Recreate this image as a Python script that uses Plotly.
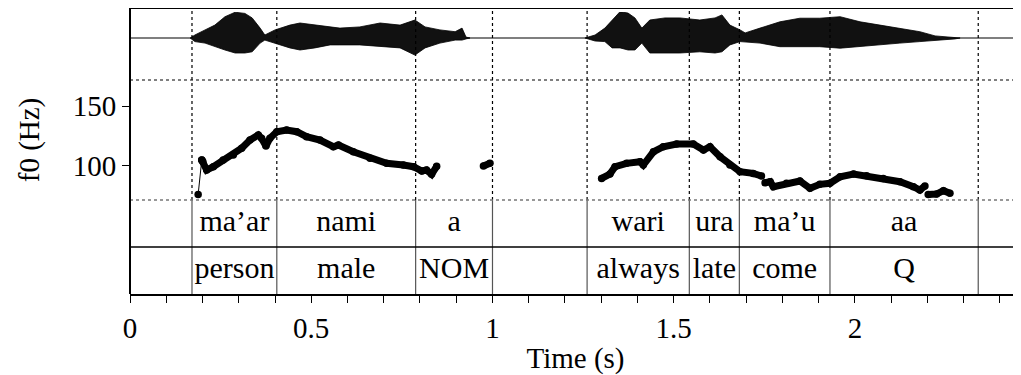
import plotly.graph_objects as go

# ---------------- data ----------------
# waveform amplitude envelope (arbitrary units, upper / lower)
wave_time = [0.166, 0.179, 0.207, 0.234, 0.262, 0.290, 0.317, 0.337, 0.359, 0.372, 0.400,
             0.441, 0.469, 0.510, 0.552, 0.579, 0.634, 0.690, 0.745, 0.786, 0.814, 0.855,
             0.897, 0.916, 0.927, 0.938]
wave_upper = [0.0, 0.10, 0.27, 0.43, 0.71, 0.86, 0.82, 0.67, 0.33, 0.10, 0.27,
              0.43, 0.50, 0.43, 0.37, 0.33, 0.37, 0.50, 0.43, 0.60, 0.37, 0.27,
              0.21, 0.33, 0.03, 0.0]
wave_lower = [0.0, -0.12, -0.17, -0.29, -0.40, -0.50, -0.50, -0.46, -0.17, -0.07, -0.17,
              -0.33, -0.40, -0.33, -0.23, -0.23, -0.23, -0.29, -0.33, -0.57, -0.33, -0.17,
              -0.07, -0.07, -0.03, 0.0]

wave2_time = [1.255, 1.283, 1.310, 1.330, 1.352, 1.374, 1.393, 1.412, 1.434, 1.476, 1.517,
              1.572, 1.614, 1.633, 1.655, 1.683, 1.697, 1.738, 1.793, 1.848, 1.903, 1.959,
              2.014, 2.069, 2.124, 2.179, 2.221, 2.276, 2.290]
wave2_upper = [0.0, 0.10, 0.33, 0.60, 0.88, 0.83, 0.67, 0.33, 0.60, 0.67, 0.67,
               0.60, 0.67, 0.77, 0.43, 0.27, 0.17, 0.33, 0.54, 0.66, 0.66, 0.71,
               0.54, 0.43, 0.33, 0.21, 0.07, 0.03, 0.0]
wave2_lower = [0.0, -0.10, -0.12, -0.33, -0.33, -0.40, -0.40, -0.17, -0.50, -0.50, -0.50,
               -0.46, -0.50, -0.46, -0.23, -0.12, -0.12, -0.17, -0.29, -0.29, -0.29, -0.34,
               -0.29, -0.23, -0.17, -0.12, -0.07, -0.03, 0.0]

# f0 track (Hz); None separates unvoiced gaps
f0_time = [0.198, 0.201, 0.2115, 0.230, 0.257, 0.285, 0.308, 0.331, 0.354, 0.363, 0.375,
           0.386, 0.405, 0.432, 0.460, 0.487, 0.524, 0.561, 0.575, 0.616, 0.662, 0.708,
           0.754, 0.782, 0.805, 0.818, 0.832, 0.846, None,
           0.975, 0.993, None,
           1.301, 1.324, 1.338, 1.370, 1.407, 1.416, 1.444, 1.471, 1.508, 1.554, 1.582,
           1.600, 1.628, 1.655, 1.683, 1.719, 1.742, None,
           1.752, 1.766, 1.775, 1.811, 1.848, 1.876, 1.903, 1.931, 1.959, 1.996, 2.032,
           2.078, 2.124, 2.161, 2.179, 2.193, None,
           2.202, 2.225, 2.244, 2.262]
f0_hz = [104.8, 103.4, 96.4, 99.2, 104.8, 109.0, 114.6, 121.5, 125.7, 123.0, 116.5,
         123.0, 128.5, 129.9, 128.5, 124.3, 121.5, 115.9, 117.3, 111.7, 106.2, 102.0,
         100.6, 99.2, 95.6, 96.4, 92.8, 99.5, None,
         99.7, 102.0, None,
         89.4, 93.0, 99.2, 102.0, 103.4, 100.6, 111.7, 115.9, 118.2, 118.2, 113.1,
         115.9, 107.5, 100.6, 95.0, 93.6, 91.4, None,
         85.8, 86.6, 82.4, 85.3, 87.2, 81.1, 84.4, 85.3, 90.8, 93.0, 91.6,
         89.4, 86.6, 82.4, 79.6, 83.0, None,
         76.0, 76.3, 79.1, 76.9]
# first (octave-jump) frame joined by a thin line
f0_jump_time = [0.188, 0.198]
f0_jump_hz = [76.0, 104.8]

# text tiers
interval_start = [0.171, 0.405, 0.788, 1.261, 1.543, 1.681, 1.931]
interval_end = [0.405, 0.788, 1.000, 1.543, 1.681, 1.931, 2.340]
tier1_labels = ["ma\u2019ar", "nami", "a", "wari", "ura", "ma\u2019u", "aa"]
tier2_labels = ["person", "male", "NOM", "always", "late", "come", "Q"]
boundaries = [0.171, 0.405, 0.788, 1.000, 1.261, 1.543, 1.681, 1.931, 2.340]

x_ticks = [round(i * 0.1, 1) for i in range(25)]
x_tick_labels = ["0", "0.5", "1", "1.5", "2"]
y_ticks = [100, 150]

# ---------------- figure ----------------
FONT = "Liberation Serif"
FS = 29
FS_TIER = 30
X_RANGE = [0, 2.458]
F0_RANGE = [71.3, 171.8]
WAVE_RANGE = [-1.4, 0.867]
D_TIER = [0, 0.3333]
D_F0 = [0.3333, 0.7589]
D_WAVE = [0.7589, 1.0]
TOP = 1.0142  # frame top line, just above the plot area

fig = go.Figure()

# waveform zero line
fig.add_trace(go.Scatter(x=[X_RANGE[0], X_RANGE[1]], y=[0, 0], mode="lines",
                         line=dict(color="black", width=1.2), yaxis="y2",
                         hoverinfo="skip", showlegend=False))
for t, up, lo in [(wave_time, wave_upper, wave_lower), (wave2_time, wave2_upper, wave2_lower)]:
    fig.add_trace(go.Scatter(x=t + t[::-1], y=up + lo[::-1], mode="lines", fill="toself",
                             fillcolor="#111111",
                             line=dict(color="black", width=0.8), yaxis="y2",
                             hoverinfo="skip", showlegend=False))

# f0
fig.add_trace(go.Scatter(x=f0_jump_time, y=f0_jump_hz, mode="lines+markers",
                         line=dict(color="black", width=1),
                         marker=dict(color="black", size=7.5), yaxis="y",
                         showlegend=False))
fig.add_trace(go.Scatter(x=f0_time, y=f0_hz, mode="lines+markers",
                         line=dict(color="black", width=7),
                         marker=dict(color="black", size=7.5), connectgaps=False,
                         yaxis="y", showlegend=False))

# tier text
mids = [(a + b) / 2 for a, b in zip(interval_start, interval_end)]
fig.add_trace(go.Scatter(x=mids, y=[1.5] * len(mids), mode="text", text=tier1_labels,
                         textfont=dict(family=FONT, size=FS_TIER, color="black"),
                         yaxis="y3", showlegend=False, hoverinfo="skip"))
fig.add_trace(go.Scatter(x=mids, y=[0.5] * len(mids), mode="text", text=tier2_labels,
                         textfont=dict(family=FONT, size=FS_TIER, color="black"),
                         yaxis="y3", showlegend=False, hoverinfo="skip"))

shapes = []
for b in boundaries:
    shapes.append(dict(type="line", xref="x", yref="paper", x0=b, x1=b,
                       y0=D_TIER[1], y1=TOP, line=dict(color="black", width=1.2, dash="dot")))
    shapes.append(dict(type="line", xref="x", yref="paper", x0=b, x1=b,
                       y0=0, y1=D_TIER[1], line=dict(color="#555", width=1.2)))
# panel separators
shapes.append(dict(type="line", xref="paper", yref="paper", x0=0, x1=1,
                   y0=D_WAVE[0], y1=D_WAVE[0], line=dict(color="black", width=1.2, dash="dot")))
shapes.append(dict(type="line", xref="paper", yref="paper", x0=0, x1=1,
                   y0=D_TIER[1], y1=D_TIER[1], line=dict(color="#777", width=1.5, dash="dot")))
shapes.append(dict(type="line", xref="paper", yref="paper", x0=0, x1=1,
                   y0=D_TIER[1] / 2, y1=D_TIER[1] / 2, line=dict(color="black", width=1.3)))
shapes.append(dict(type="line", xref="paper", yref="paper", x0=0, x1=1,
                   y0=TOP, y1=TOP, line=dict(color="black", width=2)))
shapes.append(dict(type="line", xref="paper", yref="paper", x0=0, x1=0,
                   y0=0, y1=TOP, line=dict(color="black", width=2)))

tick_text = [x_tick_labels[int(round(v / 0.5))] if abs(v * 2 - round(v * 2)) < 1e-9 else ""
             for v in x_ticks]

fig.update_layout(
    width=1013, height=367,
    margin=dict(l=122, r=0, t=4, b=81),
    plot_bgcolor="white", paper_bgcolor="white",
    font=dict(family=FONT, size=FS, color="black"),
    shapes=shapes,
    xaxis=dict(range=X_RANGE, anchor="y3", showgrid=False, zeroline=False,
               showline=True, linecolor="black", linewidth=2,
               tickmode="array", tickvals=x_ticks, ticktext=tick_text,
               ticks="outside", ticklen=7, tickwidth=1.3, tickcolor="black",
               tickfont=dict(family=FONT, size=FS),
               title=dict(text="Time (s)", font=dict(family=FONT, size=FS), standoff=7)),
    yaxis=dict(domain=D_F0, range=F0_RANGE, anchor="x", showgrid=False, zeroline=False,
               tickmode="array", tickvals=y_ticks, ticks="outside", ticklen=7,
               tickwidth=1.3, tickcolor="black", tickfont=dict(family=FONT, size=FS),
               title=dict(text="f0 (Hz)", font=dict(family=FONT, size=FS), standoff=24)),
    yaxis2=dict(domain=D_WAVE, range=WAVE_RANGE, anchor="x", visible=False),
    yaxis3=dict(domain=D_TIER, range=[0, 2], anchor="x", visible=False),
)

fig.write_html("out.html")
